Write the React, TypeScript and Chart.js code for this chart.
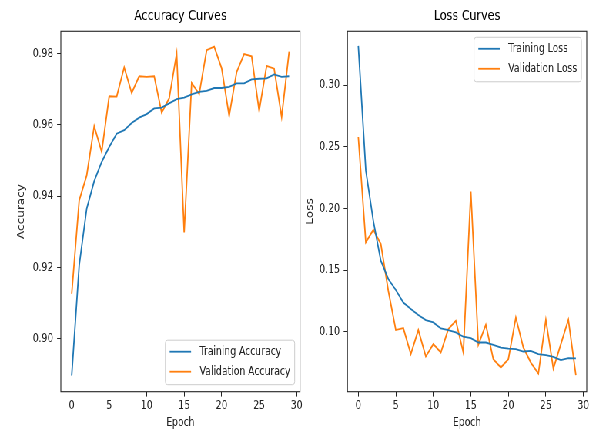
import React, { useEffect, useRef } from 'react';
import { Chart, registerables } from 'chart.js';

Chart.register(...registerables);

// ---------------- data ----------------
const epochs = [0, 1, 2, 3, 4, 5, 6, 7, 8, 9, 10, 11, 12, 13, 14, 15, 16, 17, 18, 19, 20, 21, 22, 23, 24, 25, 26, 27, 28, 29];

const trainAcc = [0.8897, 0.9206, 0.9365, 0.9442, 0.9496, 0.9538, 0.9575, 0.9585, 0.9605, 0.962, 0.963, 0.9646, 0.9648, 0.966, 0.9672, 0.9676, 0.9685, 0.9692, 0.9695, 0.9703, 0.9703, 0.9706, 0.9716, 0.9716, 0.9727, 0.9729, 0.973, 0.9741, 0.9734, 0.9736];
const valAcc = [0.9126, 0.9388, 0.9458, 0.9596, 0.9524, 0.968, 0.9679, 0.9761, 0.9689, 0.9736, 0.9734, 0.9736, 0.9634, 0.9674, 0.98, 0.9298, 0.9717, 0.9686, 0.9809, 0.9819, 0.9758, 0.9625, 0.9748, 0.9798, 0.9792, 0.9639, 0.9765, 0.9757, 0.9622, 0.9805];

const trainLoss = [0.332, 0.2309, 0.19, 0.1577, 0.1428, 0.1339, 0.1238, 0.1185, 0.1136, 0.1095, 0.1076, 0.1027, 0.1013, 0.0995, 0.096, 0.0949, 0.0913, 0.0913, 0.0894, 0.0872, 0.0864, 0.0859, 0.084, 0.0845, 0.0819, 0.0811, 0.0797, 0.077, 0.0786, 0.0784];
const valLoss = [0.258, 0.1726, 0.1827, 0.1713, 0.1333, 0.1014, 0.103, 0.0819, 0.1014, 0.08, 0.09, 0.0832, 0.1022, 0.1089, 0.0832, 0.2138, 0.0894, 0.1057, 0.0778, 0.071, 0.0778, 0.1116, 0.0872, 0.075, 0.0661, 0.1098, 0.0702, 0.09, 0.1098, 0.0648];

const xTicks = [0, 5, 10, 15, 20, 25, 30];
const accTicks = [0.9, 0.92, 0.94, 0.96, 0.98];
const lossTicks = [0.1, 0.15, 0.2, 0.25, 0.3];

const xRange = [-1.45, 30.45];
const accRange = [0.8852, 0.9862];
const lossRange = [0.0514, 0.3438];

// ---------------- styling ----------------
const S = 0.77; // horizontal squeeze of the whole figure
const FONT = "'DejaVu Sans', sans-serif";
const BLUE = '#1f77b4';
const ORANGE = '#ff7f0e';
const TXT = '#222';

const framePlugin = {
  id: 'frame',
  afterDatasetsDraw(chart: any) {
    const { ctx, chartArea } = chart;
    ctx.save();
    ctx.strokeStyle = '#222';
    ctx.lineWidth = 1.1;
    ctx.strokeRect(chartArea.left, chartArea.top, chartArea.right - chartArea.left, chartArea.bottom - chartArea.top);
    ctx.restore();
  },
};

function legendPlugin(loc: string) {
  return {
    id: 'mplLegend',
    afterDraw(chart: any) {
      const { ctx, chartArea } = chart;
      ctx.save();
      ctx.font = `12px ${FONT}`;
      const items = chart.data.datasets.map((d: any) => ({ label: d.label, color: d.borderColor }));
      const textW = Math.max(...items.map((it: any) => ctx.measureText(it.label).width));
      const pad = 5.6, handle = 27.8, gap = 11.1;
      const w = pad + handle + gap + textW + pad;
      const h = 44.5;
      const right = chartArea.right - 6.9;
      const left = right - w;
      const top = loc === 'upper right' ? chartArea.top + 6 : chartArea.bottom - 7 - h;
      const r = 3;
      ctx.beginPath();
      ctx.moveTo(left + r, top);
      ctx.lineTo(left + w - r, top);
      ctx.quadraticCurveTo(left + w, top, left + w, top + r);
      ctx.lineTo(left + w, top + h - r);
      ctx.quadraticCurveTo(left + w, top + h, left + w - r, top + h);
      ctx.lineTo(left + r, top + h);
      ctx.quadraticCurveTo(left, top + h, left, top + h - r);
      ctx.lineTo(left, top + r);
      ctx.quadraticCurveTo(left, top, left + r, top);
      ctx.closePath();
      ctx.fillStyle = 'rgba(255,255,255,0.8)';
      ctx.fill();
      ctx.strokeStyle = '#cccccc';
      ctx.lineWidth = 1;
      ctx.stroke();
      items.forEach((it: any, i: number) => {
        const y = top + 11.5 + i * 20;
        ctx.strokeStyle = it.color;
        ctx.lineWidth = 1.8;
        ctx.beginPath();
        ctx.moveTo(left + pad, y);
        ctx.lineTo(left + pad + handle, y);
        ctx.stroke();
        ctx.fillStyle = TXT;
        ctx.textBaseline = 'middle';
        ctx.textAlign = 'left';
        ctx.fillText(it.label, left + pad + handle + gap, y);
      });
      ctx.restore();
    },
  };
}

function buildConfig(p: any) {
  const font = { family: FONT, size: 12 };
  return {
    type: 'line',
    data: {
      datasets: [
        {
          label: p.labels[0],
          data: epochs.map((e, i) => ({ x: e, y: p.series[0][i] })),
          borderColor: BLUE,
          backgroundColor: BLUE,
          borderWidth: 1.8,
          pointRadius: 0,
          tension: 0,
          fill: false,
        },
        {
          label: p.labels[1],
          data: epochs.map((e, i) => ({ x: e, y: p.series[1][i] })),
          borderColor: ORANGE,
          backgroundColor: ORANGE,
          borderWidth: 1.8,
          pointRadius: 0,
          tension: 0,
          fill: false,
        },
      ],
    },
    options: {
      animation: false,
      responsive: false,
      devicePixelRatio: 1,
      layout: { padding: { left: 0, right: p.padRight, top: 0, bottom: 0 } },
      plugins: {
        legend: { display: false },
        tooltip: { enabled: false },
        title: {
          display: true,
          text: p.title,
          fullSize: false,
          color: '#000',
          font: { family: FONT, size: 14.4, weight: 'normal', lineHeight: 1.2 },
          padding: { top: 7.7, bottom: 6.3 },
        },
      },
      scales: {
        x: {
          type: 'linear',
          min: xRange[0],
          max: xRange[1],
          afterBuildTicks: (scale: any) => {
            scale.ticks = xTicks.map((v) => ({ value: v }));
          },
          afterFit: (scale: any) => {
            scale.height = 40.3;
            scale.paddingLeft = 0;
            scale.paddingRight = 0;
            scale.paddingTop = 0;
            scale.paddingBottom = 0;
          },
          ticks: {
            font,
            color: TXT,
            padding: 2,
            maxRotation: 0,
            autoSkip: false,
            callback: (v: any) => String(v),
          },
          grid: { display: true, drawOnChartArea: false, drawTicks: true, tickLength: 4.9, color: '#222', lineWidth: 1 },
          border: { display: false },
          title: { display: true, text: 'Epoch', color: TXT, font, padding: { top: 0, bottom: 2.1 } },
        },
        y: {
          type: 'linear',
          min: p.yRange[0],
          max: p.yRange[1],
          afterBuildTicks: (scale: any) => {
            scale.ticks = p.yTicks.map((v: number) => ({ value: v }));
          },
          afterFit: (scale: any) => {
            scale.width = p.plotLeft;
            scale.paddingLeft = 0;
            scale.paddingRight = 0;
            scale.paddingTop = 0;
            scale.paddingBottom = 0;
          },
          ticks: {
            font,
            color: TXT,
            padding: 4.9,
            autoSkip: false,
            callback: (v: any) => Number(v).toFixed(2),
          },
          grid: { display: true, drawOnChartArea: false, drawTicks: true, tickLength: 4.9, color: '#222', lineWidth: 1 },
          border: { display: false },
          title: { display: true, text: p.yTitle, color: TXT, font, padding: { top: p.yTitlePad, bottom: 0 } },
        },
      },
    },
    plugins: [framePlugin, legendPlugin(p.legendLoc)],
  } as any;
}

export default function App() {
  const leftRef = useRef<HTMLCanvasElement>(null);
  const rightRef = useRef<HTMLCanvasElement>(null);

  useEffect(() => {
    const c1 = new Chart(
      leftRef.current as HTMLCanvasElement,
      buildConfig({
        title: 'Accuracy Curves',
        yTitle: 'Accuracy',
        labels: ['Training Accuracy', 'Validation Accuracy'],
        series: [trainAcc, valAcc],
        yRange: accRange,
        yTicks: accTicks,
        plotLeft: 79.0,
        padRight: 30.4,
        yTitlePad: 21,
        legendLoc: 'lower right',
      })
    );
    const c2 = new Chart(
      rightRef.current as HTMLCanvasElement,
      buildConfig({
        title: 'Loss Curves',
        yTitle: 'Loss',
        labels: ['Training Loss', 'Validation Loss'],
        series: [trainLoss, valLoss],
        yRange: lossRange,
        yTicks: lossTicks,
        plotLeft: 71.2,
        padRight: 10,
        yTitlePad: 15.4,
        legendLoc: 'upper right',
      })
    );
    return () => {
      c1.destroy();
      c2.destroy();
    };
  }, []);

  return (
    <div style={{ position: 'absolute', left: 0, top: 0, width: 594, height: 432, overflow: 'hidden', background: '#fff' }}>
      <div
        style={{
          position: 'absolute',
          left: 0,
          top: 0,
          width: 772,
          height: 432,
          transform: `scaleX(${S})`,
          transformOrigin: '0 0',
        }}
      >
        <canvas ref={leftRef} width={420} height={432} style={{ position: 'absolute', left: 0, top: 0 }} />
        <canvas ref={rightRef} width={392} height={432} style={{ position: 'absolute', left: 380, top: 0 }} />
      </div>
    </div>
  );
}
